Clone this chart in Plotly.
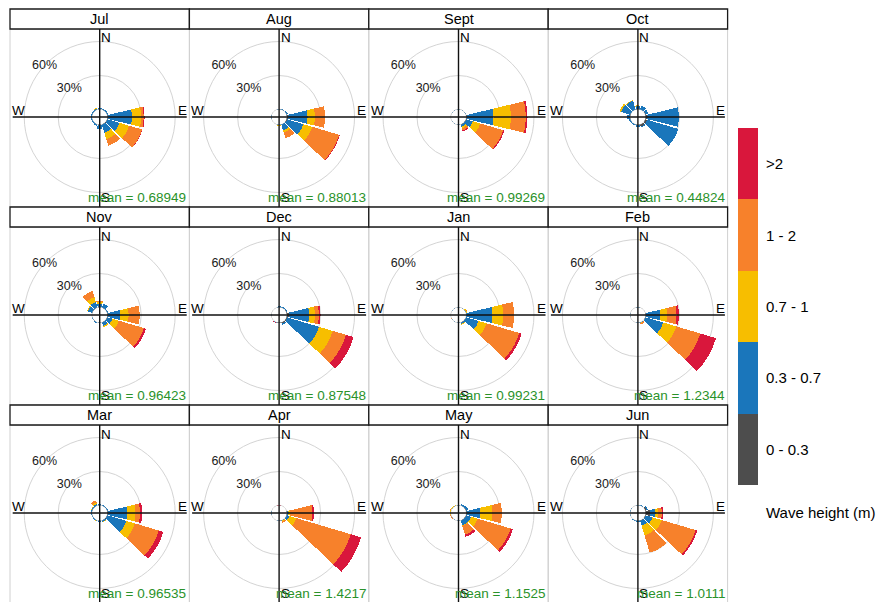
import plotly.graph_objects as go

# ---------------------------------------------------------------
# Monthly wave roses: frequency (%) of waves per direction sector,
# split by significant wave height class.
# ---------------------------------------------------------------
DIRECTIONS = [0, 30, 60, 90, 120, 150, 180, 210, 240, 270, 300, 330]
HEIGHT_CLASSES = ["0 - 0.3", "0.3 - 0.7", "0.7 - 1", "1 - 2", ">2"]
CLASS_COLORS = ["#4d4d4d", "#1a76bb", "#f7be00", "#f7812b", "#d9173c"]
LEGEND_TITLE = "Wave height (m)"

MONTHS = ["Jul", "Aug", "Sept", "Oct", "Nov", "Dec",
          "Jan", "Feb", "Mar", "Apr", "May", "Jun"]
MEAN_HEIGHT = [0.68949, 0.88013, 0.99269, 0.44824, 0.96423, 0.87548,
               0.99231, 1.2344, 0.96535, 1.4217, 1.1525, 1.0111]

GRID_PCT = [30, 60]

# one row per direction sector (0, 30, ... 330 deg),
# columns follow HEIGHT_CLASSES
jul = [[0, 1.2, 0, 0, 0], [0, 1.2, 0, 0, 0], [0, 1.2, 0, 0, 0],
       [1.0, 21.0, 8.0, 2.2, 0.8], [0.5, 11.0, 9.0, 12.0, 0.3],
       [0.3, 7.5, 6.0, 6.0, 0], [0.3, 3.5, 0.5, 0, 0], [0, 1.5, 0, 0, 0],
       [0, 1.2, 0, 0, 0], [0, 1.2, 0, 0, 0], [0, 1.2, 0, 0, 0],
       [0, 1.0, 1.0, 0, 0]]
aug = [[0, 0.8, 0, 0, 0], [0, 0.8, 0, 0, 0], [0.3, 1.2, 0, 0, 0],
       [1.0, 17.5, 6.5, 9.0, 0], [0.8, 15.0, 8.0, 24.9, 0.6],
       [0.3, 5.5, 2.0, 5.2, 0], [0, 0.5, 0.8, 0, 0], [0, 0.4, 0, 0, 0],
       [0, 0.3, 0, 0, 0], [0, 0.3, 0, 0, 0], [0, 0.3, 0, 0, 0],
       [0, 0.3, 0, 0, 0]]
sept = [[0, 0.3, 0, 0, 0], [0, 0.3, 0, 0, 0], [0, 0.5, 0, 0, 0],
        [0.8, 23.5, 15.3, 13.2, 1.5], [0.5, 6.0, 7.0, 21.0, 1.0],
        [0.3, 2.0, 1.5, 2.0, 0.8], [0, 0.5, 0.3, 0, 0], [0, 0.3, 0, 0, 0],
        [0, 0.3, 0, 0, 0], [0, 0.3, 0, 0, 0], [0, 0.3, 0, 0, 0],
        [0, 0.3, 0, 0, 0]]
oct_ = [[0.3, 2.5, 0.8, 0, 0], [0.3, 3.5, 0, 0, 0], [0.5, 2.5, 0, 0, 0],
        [2.0, 27.5, 0, 0, 0], [2.0, 28.5, 0, 0, 0],
        [2.0, 1.0, 0, 0, 0], [0.5, 1.5, 0, 0, 0], [0, 1.5, 0, 0, 0],
        [0, 1.5, 0, 0, 0], [0.3, 3.0, 0, 0, 0], [0.3, 8.5, 1.5, 0, 0],
        [0.3, 8.0, 0.5, 0, 0]]
nov = [[0.3, 3.0, 1.5, 1.2, 0], [0.3, 3.5, 0, 0, 0], [0, 1.0, 0, 0, 0],
       [0.5, 11.0, 7.5, 9.7, 0], [0.3, 4.7, 6.0, 23.0, 2.0],
       [0.3, 3.0, 1.5, 0, 0], [0, 0.8, 0, 0, 0], [0.2, 1.2, 0, 0, 0],
       [0, 0.5, 0, 0, 0], [0, 0.5, 0, 0, 0], [0.2, 4.0, 1.0, 0, 0],
       [0.3, 5.0, 4.5, 5.7, 0]]
dec = [[0, 1.0, 0, 0, 0], [0, 1.2, 0, 0, 0], [0.5, 0.8, 0, 0, 0],
       [2.0, 18.0, 5.0, 3.5, 1.5], [1.0, 29.0, 12.8, 12.2, 7.0],
       [1.5, 1.2, 0, 0, 0], [0.3, 0.5, 0, 0, 0], [0, 0.5, 0, 0, 0.5],
       [0, 0.2, 0, 0, 0], [0, 0.2, 0, 0, 0], [0, 0.2, 0, 0, 0],
       [0, 0.2, 0, 0, 0]]
jan = [[0, 0.3, 0, 0, 0], [0, 0.3, 0, 0, 0], [0, 0.5, 0.8, 0.4, 0],
       [0.5, 22.9, 9.6, 9.5, 0], [0.3, 11.5, 7.5, 30.0, 2.2],
       [0.2, 1.5, 0.5, 0, 0], [0, 0.5, 0, 0, 0], [0, 0.2, 0, 0.3, 0],
       [0, 0.2, 0, 0.3, 0], [0, 0.2, 0, 0, 0], [0, 0.2, 0, 0, 0],
       [0, 0.2, 0, 0, 0]]
feb = [[0, 0.3, 0, 0, 0], [0, 0.3, 0, 0, 0], [0, 0.3, 0, 0, 0],
       [0.3, 13.0, 6.0, 8.2, 2.1], [0.3, 16.5, 12.0, 22.0, 14.5],
       [0, 0.5, 0.5, 1.0, 0], [0, 0.2, 0, 0, 0], [0, 0.2, 0, 0, 0],
       [0, 0.2, 0, 0, 0], [0, 0.2, 0, 0, 0], [0, 0.2, 0, 0, 0],
       [0, 0.2, 0, 0, 0]]
mar = [[0, 1.0, 0, 0, 0], [0, 1.0, 0, 0, 0], [0, 1.0, 0, 0, 0],
       [1.0, 16.8, 7.2, 4.0, 2.0], [0.5, 17.5, 7.7, 22.1, 4.2],
       [0, 1.5, 0.5, 0, 0], [0, 1.0, 0, 0, 0], [0, 0.8, 0.5, 0, 0],
       [0, 0.8, 0, 0, 0], [0, 0.8, 0, 0, 0], [0, 1.0, 0.5, 0, 0],
       [0, 1.5, 1.5, 2.0, 0]]
apr = [[0, 0, 0, 0, 0.6], [0, 0.3, 0, 0, 0], [0, 0.3, 0, 0, 0],
       [0.3, 1.5, 1.5, 19.5, 1.5], [0.3, 2.5, 6.5, 50.0, 9.7],
       [0.2, 0.5, 0.5, 1.5, 0], [0, 0.3, 0, 0, 0], [0, 0.3, 0, 0, 0],
       [0, 0.3, 0, 0, 0], [0, 0.3, 0, 0, 0], [0, 0.3, 0, 0, 0],
       [0, 0.3, 0, 0, 0]]
may = [[0, 0.5, 0.3, 0, 0], [0, 1.5, 0, 0, 0], [0.5, 2.0, 0, 0, 0],
       [1.0, 11.5, 10.9, 8.2, 0], [0.5, 4.5, 6.0, 30.3, 2.2],
       [0.3, 4.5, 0.5, 8.0, 2.0], [0, 0.5, 0, 0, 0], [0, 0.5, 0, 0, 0],
       [0, 0.3, 0, 0.5, 0], [0, 0.3, 0.3, 0.5, 0], [0, 0.3, 0.5, 0.3, 0],
       [0, 0.5, 0.3, 0, 0]]
jun = [[0, 0.5, 0, 0, 0], [0.3, 0.5, 0, 0, 0], [1.5, 1.0, 0, 0, 0],
       [4.0, 5.0, 2.5, 3.0, 1.3], [0.8, 6.0, 8.6, 31.0, 1.6],
       [0.5, 4.5, 9.0, 16.0, 0], [0, 1.5, 0, 0, 0], [0, 1.0, 0, 0, 0],
       [0, 0.3, 0, 0, 0], [0, 0.3, 0, 0, 0], [0, 0.3, 0, 0, 0],
       [0, 0.3, 0, 0, 0]]

MONTH_FREQ = [jul, aug, sept, oct_, nov, dec, jan, feb, mar, apr, may, jun]

# ---------------------------------------------------------------
# page geometry (pixels)
# ---------------------------------------------------------------
W, H = 880, 602
N_COLS = 4
PANEL_LEFT = 10.0
PANEL_W = 179.4
BODY_TOP = 29.0
ROW_STEP = 198.0
BODY_H = 178.0
STRIP_H = 20.0
ROSE_R = 88.0          # pixel radius of each rose
HOLE_PX = 7.5          # hollow centre of the rose
PX_PER_PCT = 1.133
R_MAX = (ROSE_R - HOLE_PX) / PX_PER_PCT

FONT = "Liberation Sans, Arial, sans-serif"


def px(x):
    return x / W


def py(y):
    return 1 - y / H


fig = go.Figure()
shapes = []
annotations = []

for k, (month, freq) in enumerate(zip(MONTHS, MONTH_FREQ)):
    col, row = k % N_COLS, k // N_COLS
    left = PANEL_LEFT + col * PANEL_W
    right = left + PANEL_W
    top = BODY_TOP + row * ROW_STEP
    bottom = top + BODY_H
    cx = left + PANEL_W / 2
    cy = top + ROSE_R

    key = "polar" if k == 0 else f"polar{k + 1}"
    fig.update_layout(**{key: dict(
        domain=dict(x=[px(cx - ROSE_R), px(cx + ROSE_R)],
                    y=[py(cy + ROSE_R), py(cy - ROSE_R)]),
        hole=HOLE_PX / ROSE_R,
        bgcolor="rgba(0,0,0,0)",
        barmode="stack",
        radialaxis=dict(range=[0, R_MAX], tickvals=GRID_PCT,
                        showticklabels=False, ticks="", showline=False,
                        gridcolor="#d4d4d4", gridwidth=1),
        angularaxis=dict(rotation=90, direction="clockwise",
                         showgrid=False, showline=False,
                         showticklabels=False, ticks=""),
    )})

    # hollow-centre ring
    fig.add_trace(go.Scatterpolar(
        r=[0] * 73, theta=list(range(0, 361, 5)), mode="lines",
        line=dict(color="#b0b0b0", width=1), cliponaxis=False,
        subplot=key, showlegend=False, hoverinfo="skip"))

    # stacked wedges, one trace per wave-height class
    for c, (cls, colr) in enumerate(zip(HEIGHT_CLASSES, CLASS_COLORS)):
        fig.add_trace(go.Barpolar(
            r=[d[c] for d in freq], theta=DIRECTIONS, width=27,
            marker=dict(color=colr, line=dict(width=0)),
            name=cls, subplot=key, showlegend=False,
            hovertemplate=f"{month} %{{theta}}°<br>{cls} m: %{{r}}%<extra></extra>"))

    # percentage labels on the grid circles
    fig.add_trace(go.Scatterpolar(
        r=GRID_PCT, theta=[313] * len(GRID_PCT), mode="text",
        text=[f"{g}%" for g in GRID_PCT],
        textfont=dict(family=FONT, size=12.5, color="#1a1a1a"),
        cliponaxis=False, subplot=key, showlegend=False, hoverinfo="skip"))

    # panel frame, strip and compass cross
    shapes.append(dict(type="rect", xref="paper", yref="paper",
                       x0=px(left), x1=px(right), y0=py(bottom), y1=py(top),
                       line=dict(color="#d0d0d0", width=1), layer="below"))
    shapes.append(dict(type="rect", xref="paper", yref="paper",
                       x0=px(left), x1=px(right),
                       y0=py(top), y1=py(top - STRIP_H),
                       line=dict(color="#1a1a1a", width=1.3),
                       fillcolor="white"))
    shapes.append(dict(type="line", xref="paper", yref="paper",
                       x0=px(cx - 87), x1=px(cx + 87), y0=py(cy), y1=py(cy),
                       line=dict(color="#111111", width=1.4)))
    shapes.append(dict(type="line", xref="paper", yref="paper",
                       x0=px(cx), x1=px(cx), y0=py(top), y1=py(bottom),
                       line=dict(color="#111111", width=1.4)))

    annotations.append(dict(x=px(cx), y=py(top - STRIP_H / 2), text=month,
                            xref="paper", yref="paper", showarrow=False,
                            xanchor="center", yanchor="middle",
                            font=dict(family=FONT, size=14.5, color="black")))
    compass = [("N", cx + 0.5, top + 0.5, "left", "top"),
               ("S", cx + 0.5, bottom - 1, "left", "bottom"),
               ("E", cx + 88, cy + 2, "right", "bottom"),
               ("W", cx - 89, cy + 2, "left", "bottom")]
    for txt, x, y, xa, ya in compass:
        annotations.append(dict(x=px(x), y=py(y), text=txt, xref="paper",
                                yref="paper", showarrow=False, xanchor=xa,
                                yanchor=ya, borderpad=0,
                                font=dict(family=FONT, size=13.5, color="black")))
    annotations.append(dict(x=px(right - 2), y=py(bottom - 1),
                            text=f"mean = {MEAN_HEIGHT[k]:.5g}",
                            xref="paper", yref="paper", showarrow=False,
                            xanchor="right", yanchor="bottom", borderpad=0,
                            font=dict(family=FONT, size=13.5, color="#2a922a")))

# ---------------------------------------------------------------
# colour key for the height classes
# ---------------------------------------------------------------
KEY_LEFT, KEY_RIGHT, KEY_TOP, KEY_BOTTOM = 738, 758, 128, 485
for cls, colr in zip(HEIGHT_CLASSES, CLASS_COLORS):
    fig.add_trace(go.Bar(x=[0], y=[1], width=1, marker=dict(color=colr, line=dict(width=0)),
                         xaxis="x", yaxis="y", showlegend=False, name=cls,
                         hoverinfo="name"))
    annotations.append(dict(x=px(KEY_RIGHT + 6), y=HEIGHT_CLASSES.index(cls) + 0.5,
                            xref="paper", yref="y", text=cls, showarrow=False,
                            xanchor="left", yanchor="middle",
                            font=dict(family=FONT, size=15, color="black")))
annotations.append(dict(x=px(KEY_RIGHT + 6), y=py(512), xref="paper", yref="paper",
                        text=LEGEND_TITLE, showarrow=False, xanchor="left",
                        yanchor="middle",
                        font=dict(family=FONT, size=15, color="black")))

fig.update_layout(
    width=W, height=H,
    margin=dict(l=0, r=0, t=0, b=0),
    paper_bgcolor="white", plot_bgcolor="white",
    barmode="stack", bargap=0,
    xaxis=dict(domain=[px(KEY_LEFT), px(KEY_RIGHT)], range=[-0.5, 0.5],
               visible=False, fixedrange=True),
    yaxis=dict(domain=[py(KEY_BOTTOM), py(KEY_TOP)], range=[0, len(HEIGHT_CLASSES)],
               visible=False, fixedrange=True),
    shapes=shapes, annotations=annotations,
    font=dict(family=FONT),
)

fig.write_html("out.html")
